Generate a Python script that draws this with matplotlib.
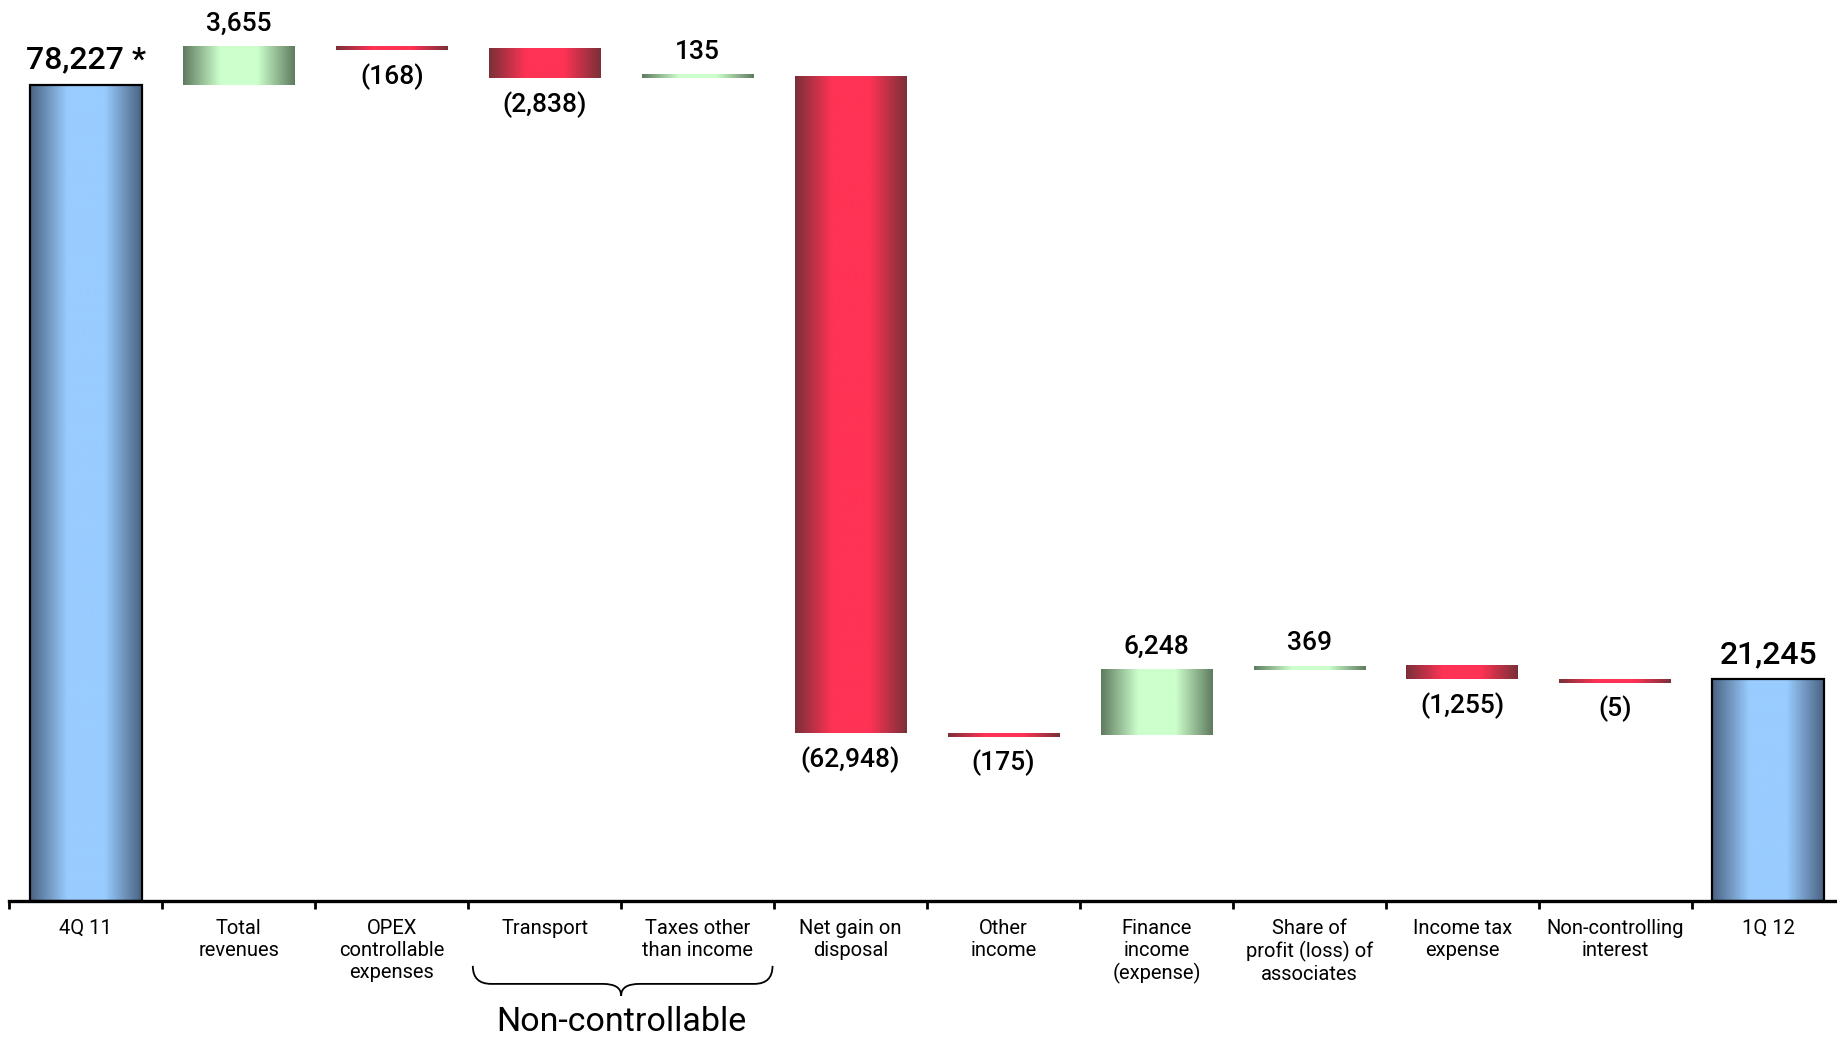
import numpy as np
import matplotlib
matplotlib.use("Agg")
import matplotlib.pyplot as plt
from matplotlib.colors import LinearSegmentedColormap
from matplotlib.path import Path
from matplotlib.patches import PathPatch, Rectangle

# Waterfall data
categories = ["4Q 11", "Total\nrevenues", "OPEX\ncontrollable\nexpenses", "Transport",
              "Taxes other\nthan income", "Net gain on\ndisposal", "Other\nincome",
              "Finance\nincome\n(expense)", "Share of\nprofit (loss) of\nassociates",
              "Income tax\nexpense", "Non-controlling\ninterest", "1Q 12"]
values = [78227, 3655, -168, -2838, 135, -62948, -175, 6248, 369, -1255, -5, 21245]
kinds = ["total"] + ["delta"] * 10 + ["total"]
label_suffix = {0: " *"}

FONT = ["Roboto", "DejaVu Sans"]

# gradient colour maps (dark edge -> light centre -> dark edge)
cmaps = {
    "total": LinearSegmentedColormap.from_list("b", ["#4a6282", "#99ccff", "#99ccff", "#4a6282"]),
    "pos": LinearSegmentedColormap.from_list("g", ["#5f7b5f", "#ccffcc", "#ccffcc", "#5f7b5f"]),
    "neg": LinearSegmentedColormap.from_list("r", ["#7a3038", "#ff3355", "#ff3355", "#7a3038"]),
}
grad = np.linspace(0, 1, 256).reshape(1, -1)


def fmt(v):
    s = f"{abs(v):,}"
    return f"({s})" if v < 0 else s


def gradient_bar(ax, x, bottom, height, kind, width=0.73, edge=False):
    x0 = x - width / 2
    ax.imshow(grad, cmap=cmaps[kind], aspect="auto", interpolation="bicubic",
              extent=(x0, x0 + width, bottom, bottom + height), zorder=2)
    if edge:
        ax.add_patch(Rectangle((x0, bottom), width, height, fill=False,
                               edgecolor="black", linewidth=1.6, zorder=3))


def value_label(ax, txt, x, y, dy, size):
    ax.annotate(txt, (x, y), xytext=(0, dy), textcoords="offset points",
                ha="center", va="center", fontsize=size, family=FONT,
                fontweight="medium")


fig = plt.figure(figsize=(18.37, 10.38), dpi=100)
ax = fig.add_axes([9.4 / 1837, 137 / 1038, 1 - 9.4 / 1837, 1 - 137 / 1038])

min_h = 300  # keep tiny steps visible
level = 0
for i, (v, k) in enumerate(zip(values, kinds)):
    txt = fmt(v) + label_suffix.get(i, "")
    if k == "total":
        gradient_bar(ax, i, 0, v, "total", edge=True)
        level = v
        value_label(ax, txt, i, v, 18, 23)
        continue
    new = level + v
    h = max(abs(v), min_h)
    if v >= 0:
        gradient_bar(ax, i, level, h, "pos")
        value_label(ax, txt, i, level + h, 16.5, 19)
    else:
        gradient_bar(ax, i, level - h, h, "neg")
        value_label(ax, txt, i, level - h, -19, 19)
    level = new

ax.set_xlim(-0.5, 11.45)
ax.set_ylim(0, 86400)

for s in ["top", "right", "left"]:
    ax.spines[s].set_visible(False)
ax.spines["bottom"].set_linewidth(2.4)
ax.set_yticks([])
ax.set_xticks(range(len(categories)))
ax.set_xticklabels(categories, fontsize=14.5, linespacing=1.2, family=FONT)
ax.tick_params(axis="x", which="major", length=0, pad=13)
ax.set_xticks(np.arange(-0.5, 11.5, 1), minor=True)
ax.tick_params(axis="x", which="minor", length=6, width=2, direction="out")

# brace under the non-controllable items
tr = ax.get_xaxis_transform()
x0, x1, xc, r = 2.53, 4.49, 3.5, 0.12
ytop, ymid, ybot = -0.072, -0.092, -0.105
verts = [(x0, ytop), (x0, ymid), (x0 + r, ymid), (xc - r, ymid),
         (xc, ymid), (xc, ybot), (xc, ymid), (xc + r, ymid),
         (x1 - r, ymid), (x1, ymid), (x1, ytop)]
codes = [Path.MOVETO, Path.CURVE3, Path.CURVE3, Path.LINETO,
         Path.CURVE3, Path.CURVE3, Path.CURVE3, Path.CURVE3,
         Path.LINETO, Path.CURVE3, Path.CURVE3]
ax.add_patch(PathPatch(Path(verts, codes), transform=tr, fill=False,
                       linewidth=1.3, edgecolor="black", clip_on=False))
ax.text(xc, -0.134, "Non-controllable", transform=tr, ha="center", va="center",
        fontsize=24.5, family=FONT)

fig.savefig("out.png", dpi=100)
